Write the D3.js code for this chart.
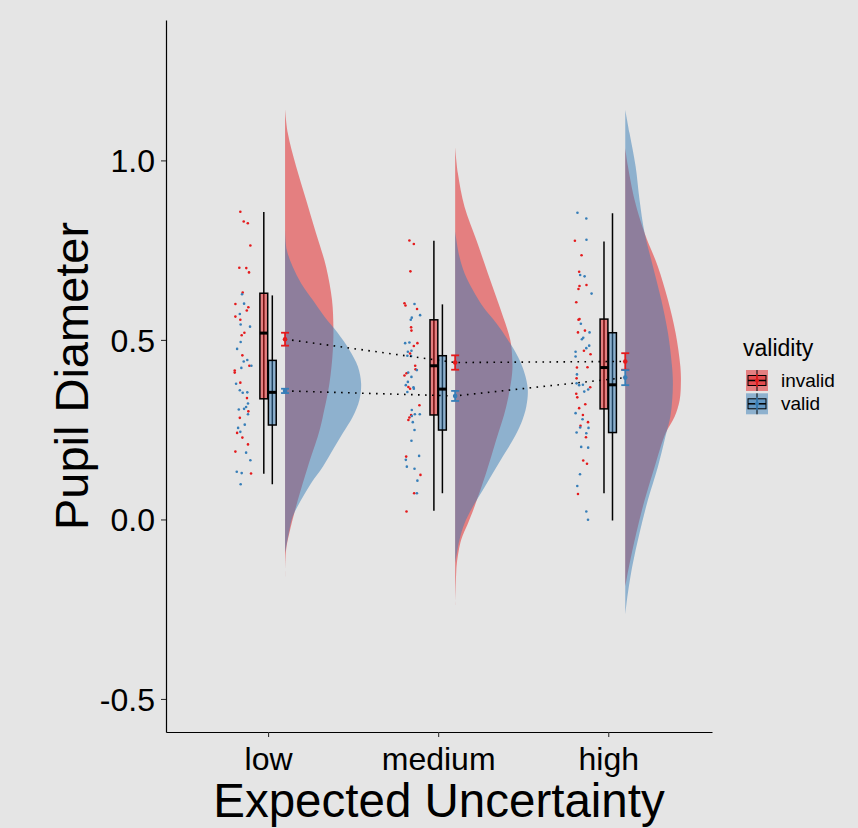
<!DOCTYPE html>
<html>
<head>
<meta charset="utf-8">
<script src="https://cdn.jsdelivr.net/npm/d3@7"></script>
<style>
  body { margin: 0; background: #e5e5e5; }
  text { font-family: "Liberation Sans", Arial, Helvetica, sans-serif; }
</style>
</head>
<body>
<div id="chart"></div>
<script>
// Categories
var groups = ["low", "medium", "high"];
var validityLevels = ["invalid", "valid"];
var yTicks = [-0.5, 0.0, 0.5, 1.0];

// Raw points: [pupil diameter, jitter]
var lowInvalid = [[0.857,-0.013],[0.830,0.007],[0.825,0.031],[0.763,0.046],[0.701,-0.019],[0.700,0.022],[0.688,0.038],[0.632,0.001],[0.600,-0.042],[0.591,0.034],[0.582,0.025],[0.565,-0.042],[0.556,-0.013],[0.520,0.011],[0.513,-0.005],[0.457,-0.001],[0.428,0.040],[0.415,-0.046],[0.409,-0.046],[0.381,-0.013],[0.338,0.026],[0.301,0.034],[0.283,-0.016],[0.241,-0.032],[0.228,-0.001],[0.209,0.032],[0.189,-0.042],[0.128,0.050]];
var lowValid = [[0.627,-0.003],[0.601,0.009],[0.572,-0.016],[0.543,-0.011],[0.537,0.044],[0.494,-0.011],[0.475,-0.032],[0.444,0.028],[0.440,0.007],[0.422,-0.007],[0.428,0.052],[0.378,-0.038],[0.360,-0.016],[0.353,0.001],[0.354,0.028],[0.323,0.032],[0.313,0.021],[0.308,0.009],[0.306,-0.022],[0.293,0.032],[0.264,0.013],[0.255,-0.026],[0.244,-0.013],[0.186,0.021],[0.165,0.046],[0.133,-0.034],[0.129,-0.005],[0.098,-0.011]];
var mediumInvalid = [[0.777,-0.019],[0.767,0.007],[0.691,-0.013],[0.602,-0.048],[0.596,-0.042],[0.586,0.026],[0.535,-0.009],[0.526,-0.007],[0.491,0.028],[0.483,0.007],[0.462,-0.015],[0.428,0.015],[0.418,0.017],[0.407,-0.036],[0.401,-0.048],[0.369,-0.025],[0.364,-0.015],[0.318,0.040],[0.291,-0.009],[0.284,-0.019],[0.277,-0.025],[0.175,-0.038],[0.124,0.046],[0.073,0.009],[0.022,-0.036]];
var mediumValid = [[0.600,0.011],[0.569,0.044],[0.562,-0.005],[0.556,-0.011],[0.491,-0.044],[0.493,-0.019],[0.470,-0.007],[0.467,-0.028],[0.456,-0.031],[0.455,-0.009],[0.416,0.025],[0.409,-0.026],[0.397,-0.007],[0.374,-0.040],[0.383,-0.028],[0.368,0.005],[0.364,0.007],[0.355,-0.031],[0.305,-0.005],[0.293,0.013],[0.293,0.042],[0.288,-0.005],[0.271,0.001],[0.249,0.011],[0.219,-0.007],[0.177,0.038],[0.166,-0.040],[0.147,-0.034],[0.141,0.011],[0.108,0.028],[0.073,0.025]];
var highInvalid = [[0.776,-0.046],[0.736,-0.007],[0.690,-0.021],[0.650,-0.019],[0.642,-0.025],[0.653,0.022],[0.605,-0.038],[0.558,-0.019],[0.556,-0.025],[0.526,0.013],[0.521,-0.028],[0.470,0.007],[0.460,0.046],[0.423,-0.034],[0.424,0.028],[0.393,-0.036],[0.368,0.044],[0.350,-0.038],[0.340,-0.032],[0.310,-0.021],[0.321,0.015],[0.291,0.001],[0.271,0.031],[0.261,-0.013],[0.229,0.019],[0.164,0.003],[0.155,0.025],[0.071,-0.028]];
var highValid = [[0.854,-0.031],[0.838,0.021],[0.779,0.022],[0.681,-0.015],[0.677,0.011],[0.629,0.052],[0.545,-0.011],[0.521,0.040],[0.506,0.003],[0.502,-0.005],[0.484,0.038],[0.477,0.021],[0.467,-0.042],[0.454,-0.042],[0.404,-0.034],[0.379,-0.036],[0.374,-0.021],[0.375,0.001],[0.362,0.032],[0.356,0.009],[0.296,-0.042],[0.279,-0.001],[0.256,-0.015],[0.255,0.034],[0.242,-0.036],[0.240,0.021],[0.202,-0.009],[0.200,0.032],[0.126,-0.016],[0.093,-0.032],[0.022,0.021],[-0.001,0.031]];

// Density outlines: [pupil diameter, density]
var lowInvalidDens = [[1.143,0],[1.076,0.016],[0.983,0.065],[0.890,0.124],[0.797,0.182],[0.704,0.241],[0.611,0.276],[0.537,0.284],[0.472,0.281],[0.379,0.261],[0.286,0.222],[0.240,0.198],[0.147,0.134],[0.054,0.075],[-0.038,0.025],[-0.085,0.006],[-0.159,0]];
var lowValidDens = [[0.811,0],[0.751,0.010],[0.704,0.045],[0.658,0.094],[0.611,0.163],[0.565,0.231],[0.519,0.310],[0.472,0.378],[0.426,0.428],[0.379,0.447],[0.333,0.437],[0.286,0.398],[0.240,0.339],[0.194,0.281],[0.147,0.222],[0.101,0.153],[0.054,0.094],[0.008,0.045],[-0.038,0.022],[-0.094,0]];
var mediumInvalidDens = [[1.038,0],[0.964,0.016],[0.871,0.055],[0.779,0.124],[0.686,0.192],[0.593,0.261],[0.500,0.324],[0.453,0.335],[0.407,0.335],[0.314,0.300],[0.221,0.241],[0.129,0.182],[0.036,0.114],[-0.011,0.075],[-0.057,0.035],[-0.122,0.010],[-0.150,0.006],[-0.238,0]];
var mediumValidDens = [[0.802,0],[0.732,0.025],[0.686,0.055],[0.639,0.104],[0.593,0.163],[0.547,0.241],[0.500,0.310],[0.453,0.369],[0.407,0.408],[0.361,0.427],[0.314,0.418],[0.268,0.388],[0.221,0.339],[0.175,0.280],[0.129,0.222],[0.082,0.163],[0.036,0.104],[-0.011,0.055],[-0.057,0.025],[-0.122,0]];
var highInvalidDens = [[1.034,0],[0.983,0.016],[0.890,0.055],[0.797,0.114],[0.704,0.192],[0.611,0.251],[0.519,0.296],[0.426,0.324],[0.379,0.327],[0.333,0.320],[0.286,0.290],[0.240,0.237],[0.147,0.173],[0.054,0.114],[-0.038,0.065],[-0.131,0.022],[-0.187,0]];
var highValidDens = [[1.141,0],[1.076,0.025],[0.983,0.061],[0.890,0.084],[0.797,0.114],[0.704,0.163],[0.611,0.212],[0.519,0.251],[0.426,0.275],[0.379,0.280],[0.333,0.276],[0.286,0.265],[0.240,0.241],[0.147,0.192],[0.054,0.133],[-0.038,0.084],[-0.131,0.041],[-0.224,0.010],[-0.266,0]];

// Boxplot stats: [lower whisker, Q1, median, Q3, upper whisker]
var invalidBox = [[0.127,0.336,0.519,0.630,0.856],[0.024,0.291,0.428,0.556,0.776],[0.073,0.308,0.423,0.558,0.774]];
var validBox = [[0.098,0.263,0.354,0.443,0.624],[0.073,0.249,0.363,0.456,0.599],[-0.003,0.242,0.375,0.520,0.853]];

// Means and standard errors
var invalidMean = [0.502, 0.437, 0.440];
var invalidSE = [0.018, 0.020, 0.023];
var validMean = [0.358, 0.344, 0.395];
var validSE = [0.006, 0.014, 0.021];

var colors = { invalid: "#e41a1c", valid: "#377eb8" };

// SVG dimensions
var svgWidth = 858;
var svgHeight = 828;
var margin = { top: 20, right: 146, bottom: 96, left: 166 };
var chartWidth = svgWidth - margin.left - margin.right;
var chartHeight = svgHeight - margin.top - margin.bottom;

var svg = d3.select("#chart")
    .append("svg")
    .attr("width", svgWidth)
    .attr("height", svgHeight)
    .style("background", "#e5e5e5");

var chartGroup = svg.append("g")
    .attr("transform", `translate(${margin.left}, ${margin.top})`);

// Scales
var xScale = d3.scaleLinear().domain([0.4, 3.61]).range([0, chartWidth]);
var yScale = d3.scaleLinear().domain([-0.592, 1.391]).range([chartHeight, 0]);

var pointsBy = { invalid: [lowInvalid, mediumInvalid, highInvalid], valid: [lowValid, mediumValid, highValid] };
var densBy = { invalid: [lowInvalidDens, mediumInvalidDens, highInvalidDens], valid: [lowValidDens, mediumValidDens, highValidDens] };
var boxBy = { invalid: invalidBox, valid: validBox };
var meanBy = { invalid: invalidMean, valid: validMean };
var seBy = { invalid: invalidSE, valid: validSE };

// Half violins (invalid first, valid on top)
validityLevels.forEach(function(v) {
    groups.forEach(function(g, i) {
        var base = i + 1 + 0.1;
        var area = d3.area()
            .y(d => yScale(d[0]))
            .x0(xScale(base))
            .x1(d => xScale(base + d[1]))
            .curve(d3.curveCatmullRom);
        chartGroup.append("path")
            .datum(densBy[v][i])
            .attr("d", area)
            .attr("fill", colors[v])
            .attr("fill-opacity", 0.5);
    });
});

// Jittered raw points
validityLevels.forEach(function(v) {
    groups.forEach(function(g, i) {
        chartGroup.selectAll(null)
            .data(pointsBy[v][i])
            .enter()
            .append("circle")
            .attr("cx", d => xScale(i + 1 - 0.15 + d[1]))
            .attr("cy", d => yScale(d[0]))
            .attr("r", 1.3)
            .attr("fill", colors[v]);
    });
});

// Boxplots, dodged
var boxWidth = 0.046;
validityLevels.forEach(function(v, k) {
    var offset = k === 0 ? -0.025 : 0.025;
    boxBy[v].forEach(function(s, i) {
        var cx = xScale(i + 1 + offset);
        var x0 = xScale(i + 1 + offset - boxWidth / 2);
        var x1 = xScale(i + 1 + offset + boxWidth / 2);
        chartGroup.append("line")
            .attr("x1", cx).attr("x2", cx)
            .attr("y1", yScale(s[0])).attr("y2", yScale(s[4]))
            .attr("stroke", "black")
            .attr("stroke-width", 1.5);
        chartGroup.append("rect")
            .attr("x", x0)
            .attr("y", yScale(s[3]))
            .attr("width", x1 - x0)
            .attr("height", yScale(s[1]) - yScale(s[3]))
            .attr("fill", colors[v])
            .attr("fill-opacity", 0.5)
            .attr("stroke", "black")
            .attr("stroke-width", 1.5);
        chartGroup.append("line")
            .attr("x1", x0).attr("x2", x1)
            .attr("y1", yScale(s[2])).attr("y2", yScale(s[2]))
            .attr("stroke", "black")
            .attr("stroke-width", 3);
    });
});

// Dotted lines connecting means
validityLevels.forEach(function(v) {
    var line = d3.line()
        .x((d, i) => xScale(i + 1 + 0.1))
        .y(d => yScale(d));
    chartGroup.append("path")
        .datum(meanBy[v])
        .attr("d", line)
        .attr("fill", "none")
        .attr("stroke", "black")
        .attr("stroke-width", 1.6)
        .attr("stroke-dasharray", "1.6,5.4");
});

// Mean +/- SE
validityLevels.forEach(function(v) {
    meanBy[v].forEach(function(m, i) {
        var cx = xScale(i + 1 + 0.1);
        var cap = 4;
        var lo = yScale(m - seBy[v][i]);
        var hi = yScale(m + seBy[v][i]);
        var eb = chartGroup.append("g")
            .attr("stroke", colors[v])
            .attr("stroke-width", 1.8);
        eb.append("line").attr("x1", cx).attr("x2", cx).attr("y1", lo).attr("y2", hi);
        eb.append("line").attr("x1", cx - cap).attr("x2", cx + cap).attr("y1", lo).attr("y2", lo);
        eb.append("line").attr("x1", cx - cap).attr("x2", cx + cap).attr("y1", hi).attr("y2", hi);
        chartGroup.append("circle")
            .attr("cx", cx)
            .attr("cy", yScale(m))
            .attr("r", 2.3)
            .attr("fill", colors[v]);
    });
});

// Axes
var bottomAxis = d3.axisBottom(xScale)
    .tickValues([1, 2, 3])
    .tickFormat((d, i) => groups[i])
    .tickSize(5)
    .tickSizeOuter(0);
var leftAxis = d3.axisLeft(yScale)
    .tickValues(yTicks)
    .tickFormat(d => d.toFixed(1))
    .tickSize(5)
    .tickSizeOuter(0);

var xAxisG = chartGroup.append("g")
    .attr("transform", `translate(0, ${chartHeight})`)
    .call(bottomAxis);
xAxisG.selectAll("text")
    .attr("y", 38)
    .attr("dy", 0)
    .style("font-size", "32px")
    .attr("fill", "black");

var yAxisG = chartGroup.append("g")
    .call(leftAxis);
yAxisG.selectAll("text")
    .attr("x", -11)
    .attr("dy", "0.36em")
    .style("font-size", "32px")
    .attr("fill", "black");

[xAxisG, yAxisG].forEach(function(a) {
    a.select(".domain").attr("stroke", "black").attr("stroke-width", 1.2);
    a.selectAll(".tick line").attr("stroke", "#333").attr("stroke-width", 1.1);
});

// Axis titles
svg.append("text")
    .attr("transform", `translate(88, ${margin.top + chartHeight / 2}) rotate(-90)`)
    .attr("text-anchor", "middle")
    .style("font-size", "47px")
    .text("Pupil Diameter");

svg.append("text")
    .attr("x", margin.left + chartWidth / 2)
    .attr("y", 817)
    .attr("text-anchor", "middle")
    .style("font-size", "47.5px")
    .text("Expected Uncertainty");

// Legend
var legend = svg.append("g").attr("transform", "translate(746, 0)");
legend.append("text")
    .attr("x", -3)
    .attr("y", 356)
    .style("font-size", "23px")
    .text("validity");

validityLevels.forEach(function(v, k) {
    var top = 370 + k * 23.3;
    var key = legend.append("g").attr("transform", `translate(0, ${top})`);
    key.append("rect")
        .attr("width", 22).attr("height", 21)
        .attr("fill", colors[v]).attr("fill-opacity", 0.5);
    key.append("line")
        .attr("x1", 11).attr("x2", 11).attr("y1", 0).attr("y2", 21)
        .attr("stroke", "black").attr("stroke-width", 1);
    key.append("rect")
        .attr("x", 2).attr("y", 5.5).attr("width", 18).attr("height", 10)
        .attr("fill", colors[v]).attr("fill-opacity", 0.5)
        .attr("stroke", "black").attr("stroke-width", 1);
    key.append("line")
        .attr("x1", 11).attr("x2", 11).attr("y1", 4).attr("y2", 17)
        .attr("stroke", colors[v]).attr("stroke-width", 1.5);
    key.append("line")
        .attr("x1", 2).attr("x2", 20).attr("y1", 10.5).attr("y2", 10.5)
        .attr("stroke", "black").attr("stroke-width", 1.5);
    key.append("circle")
        .attr("cx", 11).attr("cy", 10.5).attr("r", 2)
        .attr("fill", colors[v]);
    legend.append("text")
        .attr("x", 35)
        .attr("y", top + 17)
        .style("font-size", "19px")
        .text(v);
});
</script>
</body>
</html>
